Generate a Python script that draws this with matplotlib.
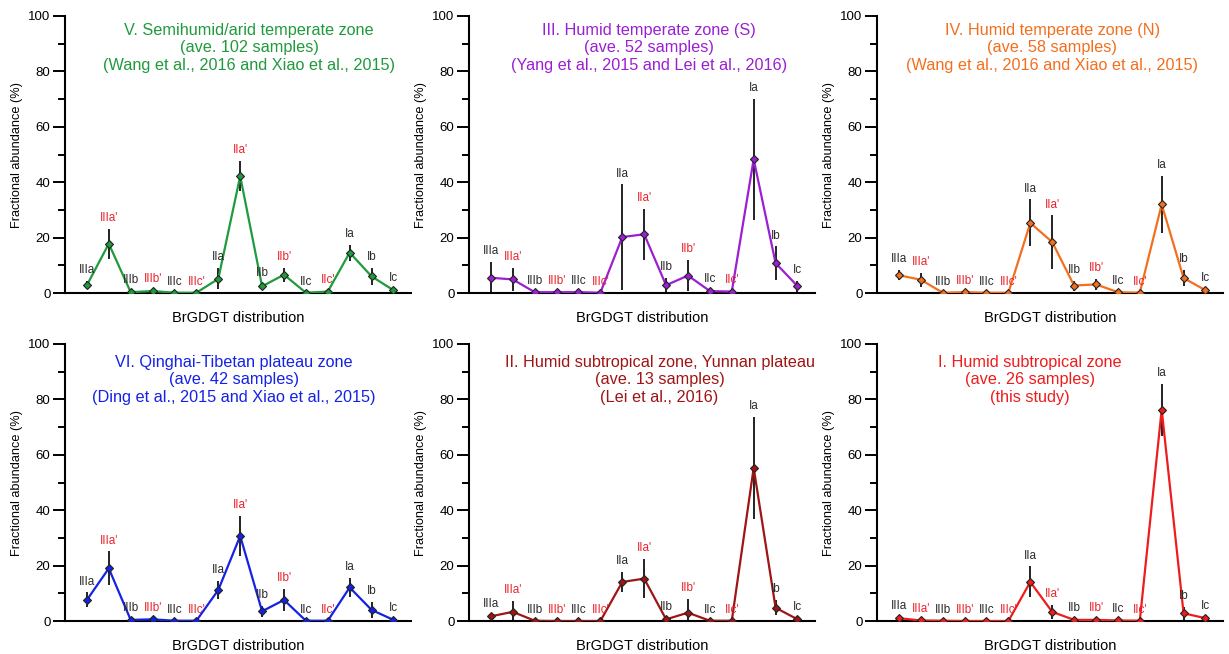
import matplotlib
matplotlib.use("Agg")
import matplotlib.pyplot as plt
from matplotlib.ticker import MultipleLocator

plt.rcParams['font.family'] = ['Liberation Sans', 'DejaVu Sans']

# BrGDGT compounds (primed = 6-methyl isomers, shown in red)
compounds = ["IIIa", "IIIa'", "IIIb", "IIIb'", "IIIc", "IIIc'",
             "IIa", "IIa'", "IIb", "IIb'", "IIc", "IIc'", "Ia", "Ib", "Ic"]

# mean fractional abundance (%) and standard deviation, per climate zone
zone5_mean = [2.8, 17.8, 0.3, 0.7, 0.1, 0.1, 5.1, 42.2, 2.4, 6.6, 0.1, 0.5, 14.6, 6.0, 1.0]
zone5_sd = [1.5, 5.4, 0.3, 0.3, 0.1, 0.1, 3.8, 5.5, 0.8, 2.5, 0.1, 0.3, 2.9, 3.0, 0.5]

zone3_mean = [5.5, 4.9, 0.3, 0.3, 0.3, 0.1, 20.2, 21.2, 2.8, 6.3, 0.7, 0.5, 48.3, 10.8, 2.5]
zone3_sd = [5.6, 4.2, 0.2, 0.2, 0.2, 0.1, 19.0, 9.2, 2.5, 5.5, 0.5, 0.3, 21.8, 6.0, 2.0]

zone4_mean = [6.4, 4.8, 0.1, 0.3, 0.1, 0.1, 25.3, 18.4, 2.7, 3.1, 0.3, 0.1, 32.0, 5.4, 1.0]
zone4_sd = [1.8, 2.5, 0.1, 0.2, 0.1, 0.1, 8.5, 9.6, 1.8, 2.0, 0.2, 0.1, 10.3, 2.8, 0.5]

zone6_mean = [7.6, 19.0, 0.4, 0.6, 0.1, 0.1, 11.2, 30.7, 3.5, 7.6, 0.1, 0.1, 12.1, 4.0, 0.4]
zone6_sd = [2.7, 6.1, 0.3, 0.3, 0.1, 0.1, 3.3, 7.2, 2.0, 3.9, 0.1, 0.1, 3.4, 2.8, 0.3]

zone2_mean = [1.7, 3.3, 0.1, 0.0, 0.0, 0.0, 14.1, 15.3, 0.6, 3.0, 0.1, 0.1, 55.3, 4.8, 0.6]
zone2_sd = [0.6, 3.9, 0.1, 0.0, 0.0, 0.0, 3.7, 7.1, 0.4, 4.9, 0.1, 0.1, 18.3, 2.7, 0.4]

zone1_mean = [1.0, 0.2, 0.1, 0.0, 0.0, 0.0, 14.1, 3.3, 0.4, 0.4, 0.2, 0.1, 76.3, 2.8, 1.0]
zone1_sd = [0.5, 0.2, 0.1, 0.0, 0.0, 0.0, 5.6, 2.5, 0.3, 0.3, 0.1, 0.1, 9.4, 2.3, 0.5]

titles = [
    ["V. Semihumid/arid temperate zone", "(ave. 102 samples)", "(Wang et al., 2016 and Xiao et al., 2015)"],
    ["III. Humid temperate zone (S)", "(ave. 52 samples)", "(Yang et al., 2015 and Lei et al., 2016)"],
    ["IV. Humid temperate zone (N)", "(ave. 58 samples)", "(Wang et al., 2016 and Xiao et al., 2015)"],
    ["VI. Qinghai-Tibetan plateau zone", "(ave. 42 samples)", "(Ding et al., 2015 and Xiao et al., 2015)"],
    ["II. Humid subtropical zone, Yunnan plateau", "(ave. 13 samples)", "(Lei et al., 2016)"],
    ["I. Humid subtropical zone", "(ave. 26 samples)", "(this study)"],
]
means = [zone5_mean, zone3_mean, zone4_mean, zone6_mean, zone2_mean, zone1_mean]
sds = [zone5_sd, zone3_sd, zone4_sd, zone6_sd, zone2_sd, zone1_sd]
colors = ["#1f9a3c", "#9b1fd3", "#f36f1e", "#1422e6", "#a01414", "#ee1c1c"]

# layout: axes boxes in pixels (left, top), title centre along x and top per row
lefts = [65, 469, 877]
tops = [16, 344]
title_x = [8.4, 8.2, 8.0, 7.7, 8.7, 7.0]
title_top = [97.6, 96.2]

W, H = 1229, 654
fig = plt.figure(figsize=(W / 100, H / 100), dpi=100)

x = list(range(1, len(compounds) + 1))
label_red = "#e8242c"

for i in range(6):
    row, col = divmod(i, 3)
    ax = fig.add_axes([lefts[col] / W, 1 - (tops[row] + 277) / H, 346 / W, 277 / H])
    m, s, c = means[i], sds[i], colors[i]

    ax.errorbar(x, m, yerr=s, fmt="none", ecolor="#111111", elinewidth=1.3,
                capsize=0, zorder=2)
    ax.plot(x, m, color=c, lw=1.6, zorder=3)
    ax.plot(x, m, ls="none", marker="D", ms=4, mfc=c, mec="#222222", mew=0.8, zorder=4)

    for xi, name, mi, si in zip(x, compounds, m, s):
        col_lab = label_red if name.endswith("'") else "#2a2a2a"
        ax.annotate(name, (xi, mi + si), xytext=(0, 3.5), textcoords="offset points",
                    ha="center", va="bottom", fontsize=8.5, color=col_lab)

    # three title lines, one text each
    for k, line in enumerate(titles[i]):
        ax.annotate(line, (title_x[i], title_top[row]), xytext=(0, -12.6 * k),
                    textcoords="offset points", ha="center", va="top",
                    color=c, fontsize=11.7)

    ax.set_xlim(0, 15.8)
    ax.set_ylim(0, 100)
    ax.set_xticks([])
    ax.yaxis.set_major_locator(MultipleLocator(20))
    ax.yaxis.set_minor_locator(MultipleLocator(10))
    ax.tick_params(axis="y", which="major", length=8.5, width=1.4, labelsize=9.5, pad=2)
    ax.tick_params(axis="y", which="minor", length=5, width=1.4)
    for side in ["top", "right"]:
        ax.spines[side].set_visible(False)
    for side in ["left", "bottom"]:
        ax.spines[side].set_linewidth(1.5)
    ax.set_ylabel("Fractional abundance (%)", fontsize=9.2, labelpad=4)
    ax.set_xlabel("BrGDGT distribution", fontsize=10.5, labelpad=13)

plt.savefig("out.png", dpi=100)
plt.close()
